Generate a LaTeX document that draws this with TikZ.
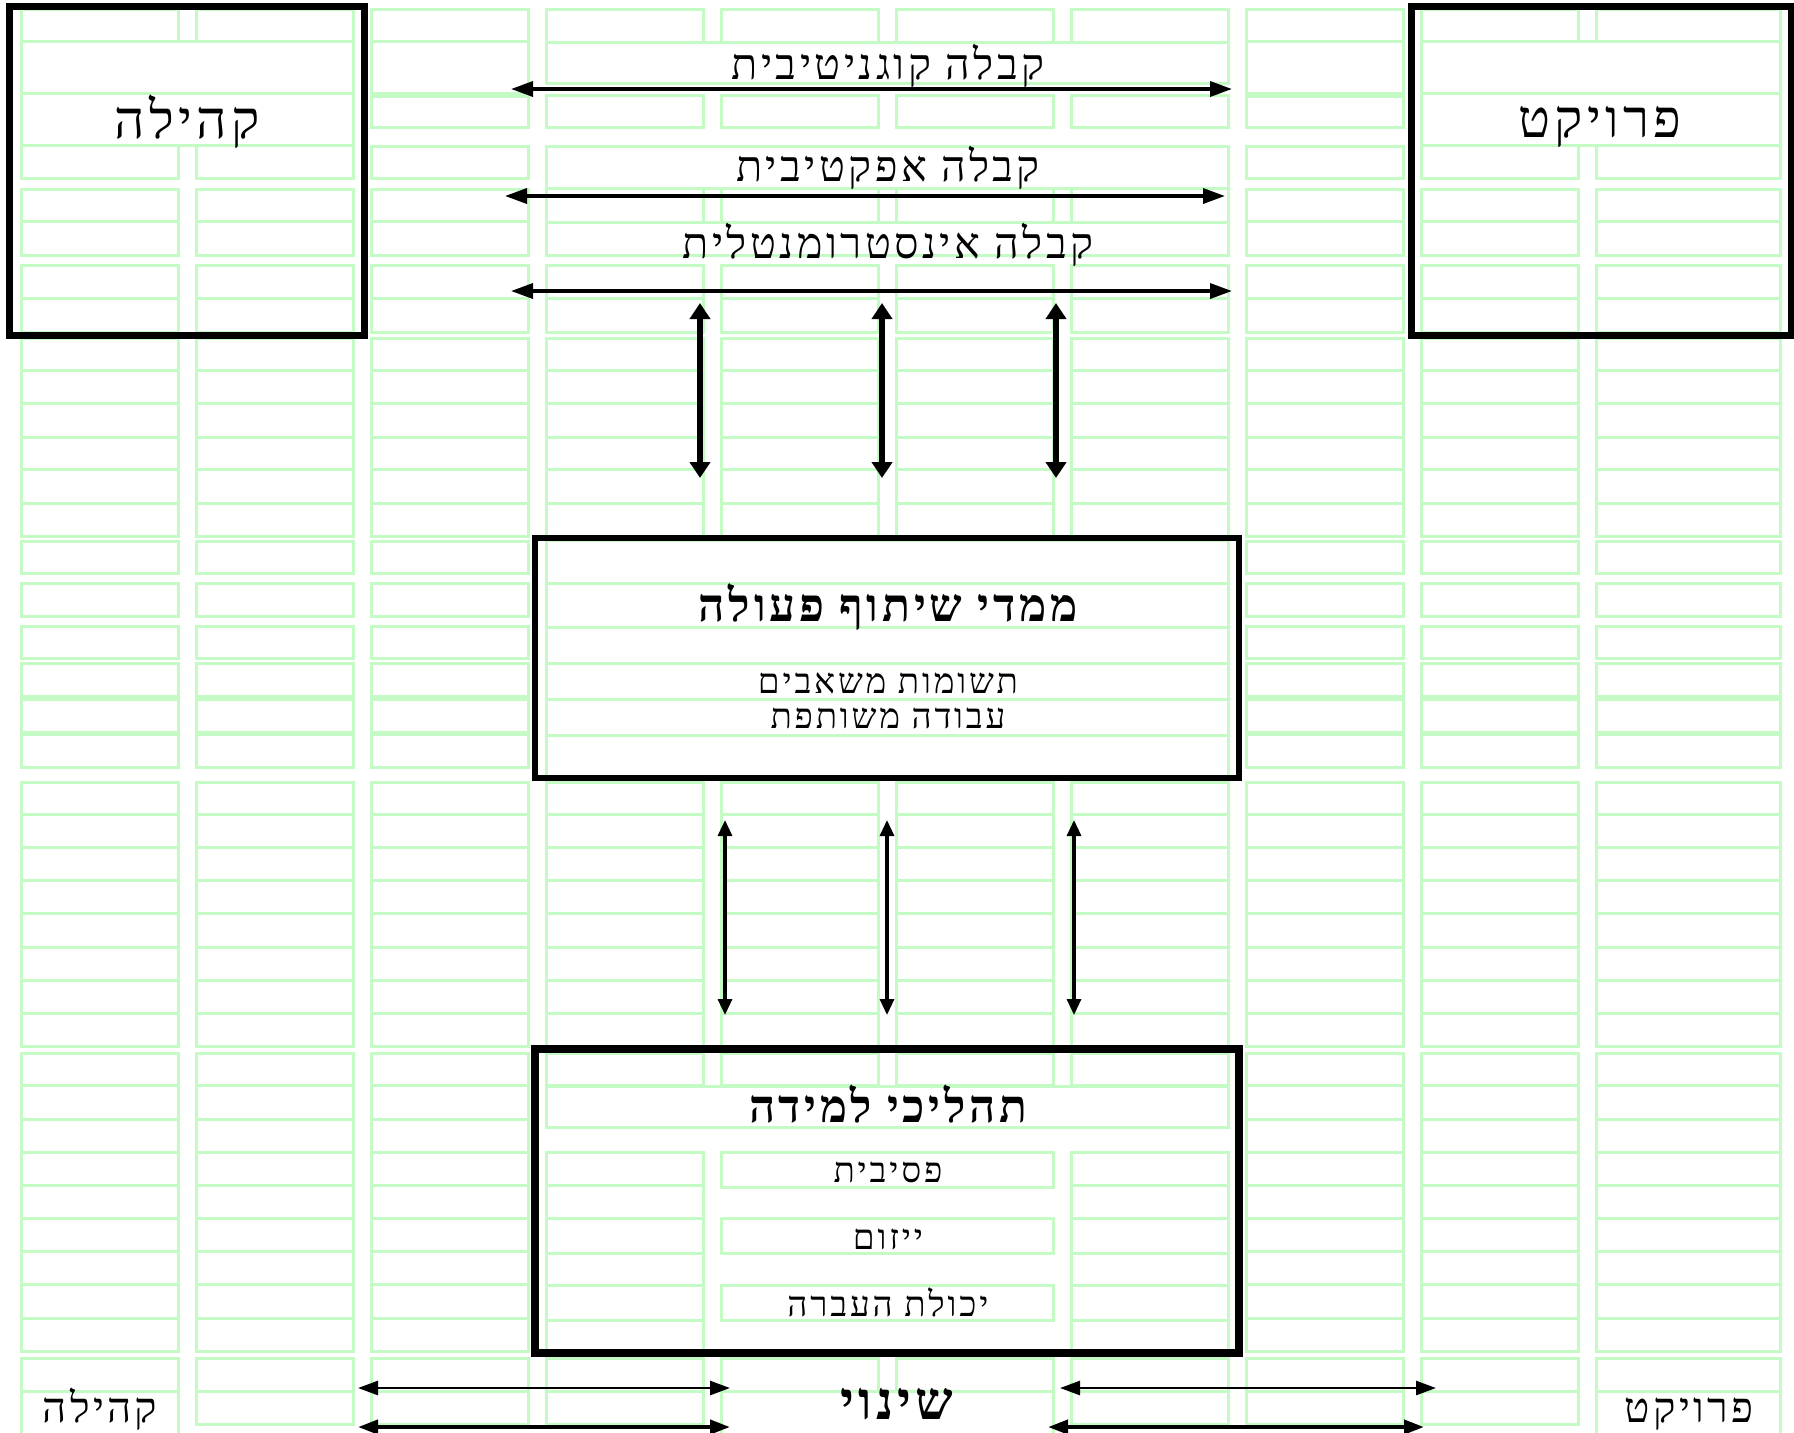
\documentclass[tikz,border=0pt]{standalone}
\usepackage{fontspec}
\usetikzlibrary{arrows.meta}
\TeXXeTstate=1
\newfontfamily\heb[Script=Hebrew,LetterSpace=8]{Liberation Serif}
\definecolor{gridgreen}{RGB}{196,250,196}
\tikzset{
  gridline/.style={draw=gridgreen,line width=1.5pt},
  bigbox/.style={draw=black,line width=3.5pt,inner sep=0pt,fill=none},
  hebtext/.style={anchor=base,inner sep=0pt},
  harrow/.style={line width=1.75pt,{Triangle[length=11pt,width=7.5pt]}-{Triangle[length=11pt,width=7.5pt]}},
  vthick/.style={line width=3pt,{Triangle[length=8pt,width=10pt]}-{Triangle[length=8pt,width=10pt]}},
  vthin/.style={line width=1.6pt,{Triangle[length=8pt,width=7pt]}-{Triangle[length=8pt,width=7pt]}},
  barrowA/.style={line width=1.3pt,{Triangle[length=10pt,width=7pt]}-{Triangle[length=10pt,width=7pt]}},
  barrowB/.style={line width=2pt,{Triangle[length=10pt,width=7pt]}-{Triangle[length=10pt,width=7pt]}},
}
\newcommand\hebfs[1]{\heb\fontsize{#1}{#1}\selectfont}
\begin{document}
\begin{tikzpicture}[x=0.5pt,y=-0.5pt]
\useasboundingbox (0,0) rectangle (1794,1432);
\clip (0,0) rectangle (1794,1432);
\fill[white] (0,0) rectangle (1794,1432);
% ---------- green background grid ----------
% top region
\foreach \l/\r in {21/178,196/353,1421/1578,1596/1780}
  \foreach \t/\b in {9/41,145/178,189/221,221/255,265/298,298/332}
    \draw[gridline] (\l,\t) rectangle (\r,\b);
\foreach \l/\r in {21/353,1421/1780}
  \foreach \t/\b in {41/93,93/145}
    \draw[gridline] (\l,\t) rectangle (\r,\b);
\foreach \l/\r in {371/528,1246/1403}
  \foreach \t/\b in {9/41,41/93,96/127,146/178,189/221,221/255,265/298,298/332}
    \draw[gridline] (\l,\t) rectangle (\r,\b);
\foreach \l/\r in {546/703,721/878,896/1053,1071/1228}
  \foreach \t/\b in {9/42,95/127,188/222,265/298,298/332}
    \draw[gridline] (\l,\t) rectangle (\r,\b);
\foreach \t/\b in {42/83,146/188,222/255}
  \draw[gridline] (546,\t) rectangle (1228,\b);
% region D
\foreach \l/\r in {21/178,196/353,371/528,546/703,721/878,896/1053,1071/1228,1246/1403,1421/1578,1596/1780}
  \foreach \t/\b in {338/370,370/403,403/437,437/469,469/503,503/536}
    \draw[gridline] (\l,\t) rectangle (\r,\b);
% middle region
\foreach \l/\r in {21/178,196/353,371/528,1246/1403,1421/1578,1596/1780}
  \foreach \t/\b in {541/573,583/616,626/658,663/696,699/732,734/767}
    \draw[gridline] (\l,\t) rectangle (\r,\b);
\foreach \t/\b in {540/583,583/627,627/663,663/699,699/735,735/776}
  \draw[gridline] (546,\t) rectangle (1228,\b);
% region E
\foreach \l/\r in {21/178,196/353,371/528,546/703,721/878,896/1053,1071/1228,1246/1403,1421/1578,1596/1780}
  \foreach \t/\b in {782/814,814/847,847/880,880/913,913/947,947/980,980/1013,1013/1046}
    \draw[gridline] (\l,\t) rectangle (\r,\b);
% region F
\foreach \l/\r in {21/178,196/353,371/528,1246/1403,1421/1578,1596/1780}
  \foreach \t/\b in {1053/1085,1085/1119,1119/1152,1152/1185,1185/1218,1218/1251,1251/1284,1284/1318,1318/1351}
    \draw[gridline] (\l,\t) rectangle (\r,\b);
\foreach \l/\r in {546/703,721/878,896/1053,1071/1228}
  \draw[gridline] (\l,1053) rectangle (\r,1085);
\draw[gridline] (546,1086) rectangle (1228,1127);
\foreach \l/\r in {546/703,1071/1228}
  \foreach \t/\b in {1152/1185,1185/1218,1218/1253,1253/1285,1285/1320,1320/1351}
    \draw[gridline] (\l,\t) rectangle (\r,\b);
\foreach \t/\b in {1152/1187,1218/1253,1285/1320}
  \draw[gridline] (721,\t) rectangle (1053,\b);
% region G
\foreach \l/\r in {21/178,196/353,371/528,546/703,721/878,896/1053,1071/1228,1246/1403,1421/1578,1596/1780}
  \draw[gridline] (\l,1358) rectangle (\r,1391);
\foreach \l/\r in {196/353,371/528,546/703,1071/1228,1246/1403,1421/1578}
  \draw[gridline] (\l,1391) rectangle (\r,1424);
\foreach \l/\r in {21/178,721/1053,1596/1780}
  \draw[gridline] (\l,1391) rectangle (\r,1445);
% ---------- boxes ----------
\node[bigbox,minimum width=177.5pt,minimum height=164.5pt] (community) at (186.5,170.5) {};
\node[bigbox,minimum width=190pt,minimum height=164.5pt] (project) at (1601,170.5) {};
\node[bigbox,line width=3pt,minimum width=352pt,minimum height=120pt] (coop) at (887,658) {};
\node[bigbox,line width=4pt,minimum width=352pt,minimum height=152pt] (learning) at (887,1201) {};
% ---------- texts ----------
\node[hebtext,font=\hebfs{26.5pt}] (tcommunity) at (187,138) {\beginR קהילה\endR};
\node[hebtext,font=\hebfs{26.5pt}] (tproject) at (1600,137) {\beginR פרויקט\endR};
\node[hebtext,font=\hebfs{21.5pt}] (lab1) at (888,79) {\beginR קבלה קוגניטיבית\endR};
\node[hebtext,font=\hebfs{21.5pt}] (lab2) at (888,181) {\beginR קבלה אפקטיבית\endR};
\node[hebtext,font=\hebfs{21.5pt}] (lab3) at (888,258) {\beginR קבלה אינסטרומנטלית\endR};
\node[hebtext,font=\hebfs{23pt}\bfseries] (tcoop) at (888,621) {\beginR ממדי שיתוף פעולה\endR};
\node[hebtext,font=\hebfs{17.5pt}] (coop1) at (888,693) {\beginR תשומות משאבים\endR};
\node[hebtext,font=\hebfs{17.5pt}] (coop2) at (888,728) {\beginR עבודה משותפת\endR};
\node[hebtext,font=\hebfs{22.8pt}\bfseries] (tlearn) at (888,1122) {\beginR תהליכי למידה\endR};
\node[hebtext,font=\hebfs{17.5pt}] (learn1) at (888,1182) {\beginR פסיבית\endR};
\node[hebtext,font=\hebfs{17.5pt}] (learn2) at (888,1249) {\beginR ייזום\endR};
\node[hebtext,font=\hebfs{17.5pt}] (learn3) at (888,1316) {\beginR יכולת העברה\endR};
\node[hebtext,font=\hebfs{21pt}] (bcommunity) at (100,1422) {\beginR קהילה\endR};
\node[hebtext,font=\hebfs{21pt}] (bproject) at (1689,1422) {\beginR פרויקט\endR};
\node[hebtext,text depth=0pt,font=\hebfs{26.5pt}\bfseries] (change) at (897,1419) {\beginR שינוי\endR};
% ---------- arrow end points ----------
\coordinate (a1l) at (511,89);  \coordinate (a1r) at (1232,89);
\coordinate (a2l) at (505,196); \coordinate (a2r) at (1225,196);
\coordinate (a3l) at (511,291); \coordinate (a3r) at (1232,291);
\foreach \n/\x in {1/700,2/882,3/1056} {
  \coordinate (vt\n) at (\x,303); \coordinate (vb\n) at (\x,478);
}
\foreach \n/\x in {1/725,2/887,3/1074} {
  \coordinate (wt\n) at (\x,820); \coordinate (wb\n) at (\x,1015);
}
\coordinate (bl1a) at (358,1388); \coordinate (bl1b) at (730,1388);
\coordinate (bl2a) at (358,1427); \coordinate (bl2b) at (730,1427);
\coordinate (br1a) at (1060,1388); \coordinate (br1b) at (1436,1388);
\coordinate (br2a) at (1048,1427); \coordinate (br2b) at (1424,1427);
% ---------- arrows ----------
\draw[harrow] (a1l) -- (a1r);
\draw[harrow] (a2l) -- (a2r);
\draw[harrow] (a3l) -- (a3r);
\foreach \n in {1,2,3} {
  \draw[vthick] (vt\n) -- (vb\n);
  \draw[vthin] (wt\n) -- (wb\n);
}
\draw[barrowA] (bl1a) -- (bl1b);
\draw[barrowB] (bl2a) -- (bl2b);
\draw[barrowA] (br1a) -- (br1b);
\draw[barrowB] (br2a) -- (br2b);
\end{tikzpicture}
\end{document}
